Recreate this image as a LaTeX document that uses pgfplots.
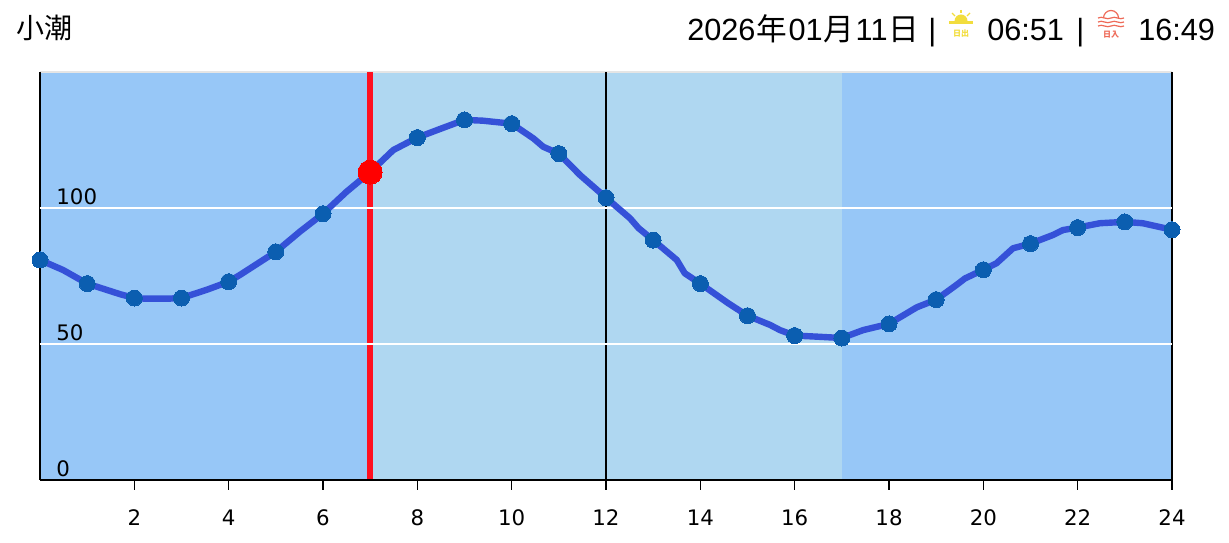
\documentclass[border=0pt]{standalone}
\usepackage{pgfplots}
\pgfplotsset{compat=1.18}
\usepackage{fontspec}
\setmainfont{DejaVu Sans}
\newfontfamily\hd{Liberation Sans}
\newfontfamily\cjk{Noto Sans CJK JP}
\definecolor{night}{HTML}{97C7F7}
\definecolor{day}{HTML}{AFD7F1}
\definecolor{tide}{HTML}{3551D8}
\definecolor{mk}{HTML}{0B5EB0}
\definecolor{redl}{HTML}{FF1020}
\definecolor{sunc}{HTML}{F2DD3D}
\definecolor{setc}{HTML}{EE6A58}
\pgfplotsset{base/.style={
  at={(30pt,47.25pt)}, anchor=origin,
  scale only axis, width=849pt, height=306pt,
  xmin=0, xmax=24, ymin=0, ymax=150,
  clip=false}}
\begin{document}
\begin{tikzpicture}
\useasboundingbox (0,0) rectangle (921.75pt,407.25pt);
\begin{axis}[base, hide axis]
% bands
\addplot[draw=none, fill=night, forget plot] coordinates {(0,0)(0,150)(7,150)(7,0)} -- cycle;
\addplot[draw=none, fill=day, forget plot] coordinates {(7,0)(7,150)(17,150)(17,0)} -- cycle;
\addplot[draw=none, fill=night, forget plot] coordinates {(17,0)(17,150)(24,150)(24,0)} -- cycle;
\addplot[color=black!10, line width=1pt, forget plot] coordinates {(0,150)(24,150)};
% verticals
\addplot[redl, line width=4.5pt, forget plot] coordinates {(7,0)(7,150)};
\addplot[black, line width=1.5pt, forget plot] coordinates {(12,0)(12,150)};
\addplot[black, line width=1.5pt, forget plot] coordinates {(24,0)(24,150)};
\addplot[black, line width=1.5pt, forget plot] coordinates {(0,0)(0,150)};
\addplot[black, line width=1.5pt, forget plot] coordinates {(0,0)(24,0)};
% grid
\addplot[white, line width=1.2pt, forget plot] coordinates {(0,100)(24,100)};
\addplot[white, line width=1.2pt, forget plot] coordinates {(0,50)(24,50)};
% tide line
\addplot[tide, line width=4.8pt, line join=round, forget plot] coordinates {
(0,80.9)(0.49,77.2)(1,72.2)(1.7,68.3)(2,66.9)(2.19,66.7)(2.76,66.7)(3,66.9)(3.53,69.9)(4,72.9)(4.24,75.4)
(5,83.9)(5.51,91.3)(6,97.9)(6.5,106)(7,113.2)(7.49,121.3)(8,125.9)(8.52,129.3)(9,132.4)(9.39,132.1)(9.61,131.7)
(10,131.0)(10.46,125.6)(10.67,122.5)(11,120)(11.45,112.1)(12,103.8)(12.51,96.2)(12.69,92.6)(13,88.2)(13.5,80.9)(13.67,76)
(14,72.2)(14.59,65)(15,60.4)(15.48,57)(15.69,55.1)(16,53.1)(16.47,52.7)(17,52.2)(17.45,55.1)(18,57.4)(18.59,63.5)
(19,66.3)(19.43,71.7)(19.61,74.1)(20,77.3)(20.28,79.7)(20.63,85.2)(21,86.9)(21.48,90.1)(21.69,91.9)(22,92.8)(22.47,94.4)
(23,94.9)(23.38,94.4)(24,92.0)};
% hourly marks
\addplot[only marks, mark=*, mark size=6pt, mark options={fill=mk, draw=mk, line width=0pt}, forget plot] coordinates {
(0,80.9)(1,72.2)(2,66.9)(3,66.9)(4,72.9)(5,83.9)(6,97.9)(7,113.2)(8,125.9)(9,132.4)(10,131.0)(11,120.0)(12,103.8)
(13,88.2)(14,72.2)(15,60.4)(16,53.1)(17,52.2)(18,57.4)(19,66.3)(20,77.3)(21,86.9)(22,92.8)(23,94.9)(24,92.0)};
% current
\addplot[only marks, mark=*, mark size=9pt, mark options={fill=red, draw=red, line width=0pt}, forget plot] coordinates {(7,113.2)};
\end{axis}
\begin{axis}[base,
  axis x line*=bottom, axis y line*=left,
  axis line style={draw=none},
  xtick={2,4,...,24},
  ytick={0,50,100},
  tick align=outside,
  tick style={draw=black, line width=1pt},
  ytick style={draw=none},
  xtick style={draw=black, line width=1pt},
  major tick length=7.5pt,
  tick label style={font=\fontsize{16}{19}\selectfont},
  /pgf/number format/assume math mode=true,
  xticklabel style={anchor=base, yshift=-26.5pt},
  yticklabel style={anchor=south west, xshift=16.25pt, yshift=-1pt},
]
\end{axis}
% header, pixel coordinates
\begin{scope}[shift={(0,407.25pt)}, x=0.75pt, y=-0.75pt]
\node[anchor=base west, inner sep=0, font=\cjk\fontsize{21}{24}\selectfont] at (16,39) {小潮};
\node[anchor=base west, inner sep=0, font=\hd\fontsize{23}{26}\selectfont] at (687,41) {2026\kern.9pt{\cjk 年}\kern.9pt01\kern.9pt{\cjk 月}\kern.9pt11\kern.9pt{\cjk 日}};
\node[anchor=base west, inner sep=0, font=\hd\fontsize{23}{26}\selectfont] at (928,41) {|};
\node[anchor=base west, inner sep=0, font=\hd\fontsize{23}{26}\selectfont] at (987,41) {06:51};
\node[anchor=base west, inner sep=0, font=\hd\fontsize{23}{26}\selectfont] at (1076,41) {|};
\node[anchor=base west, inner sep=0, font=\hd\fontsize{23}{26}\selectfont] at (1138,41) {16:49};
% sunrise icon
\fill[sunc] (949,21) rectangle (973,24);
\fill[sunc] (954.5,21) arc[start angle=180, end angle=360, radius=6.5];
\draw[sunc, line width=1pt] (961,10) -- (961,13);
\draw[sunc, line width=1pt] (952,13) -- (955,16);
\draw[sunc, line width=1pt] (970,13) -- (967,16);
\node[inner sep=0, text=sunc, font=\cjk\bfseries\fontsize{6}{7}\selectfont] at (961,34) {日出};
% sunset icon
\draw[setc, line width=0.9pt] (1103.5,18) arc[start angle=180, end angle=360, radius=7.5];
\foreach \yy in {18,22,26}{
\draw[setc, line width=0.9pt] (1098,\yy) .. controls (1102,\yy-2.5) and (1107,\yy+2.5) .. (1111,\yy) .. controls (1115,\yy-2.5) and (1120,\yy+2.5) .. (1124,\yy);}
\node[inner sep=0, text=setc, font=\cjk\bfseries\fontsize{6}{7}\selectfont] at (1111,35) {日入};
\end{scope}
\end{tikzpicture}
\end{document}
